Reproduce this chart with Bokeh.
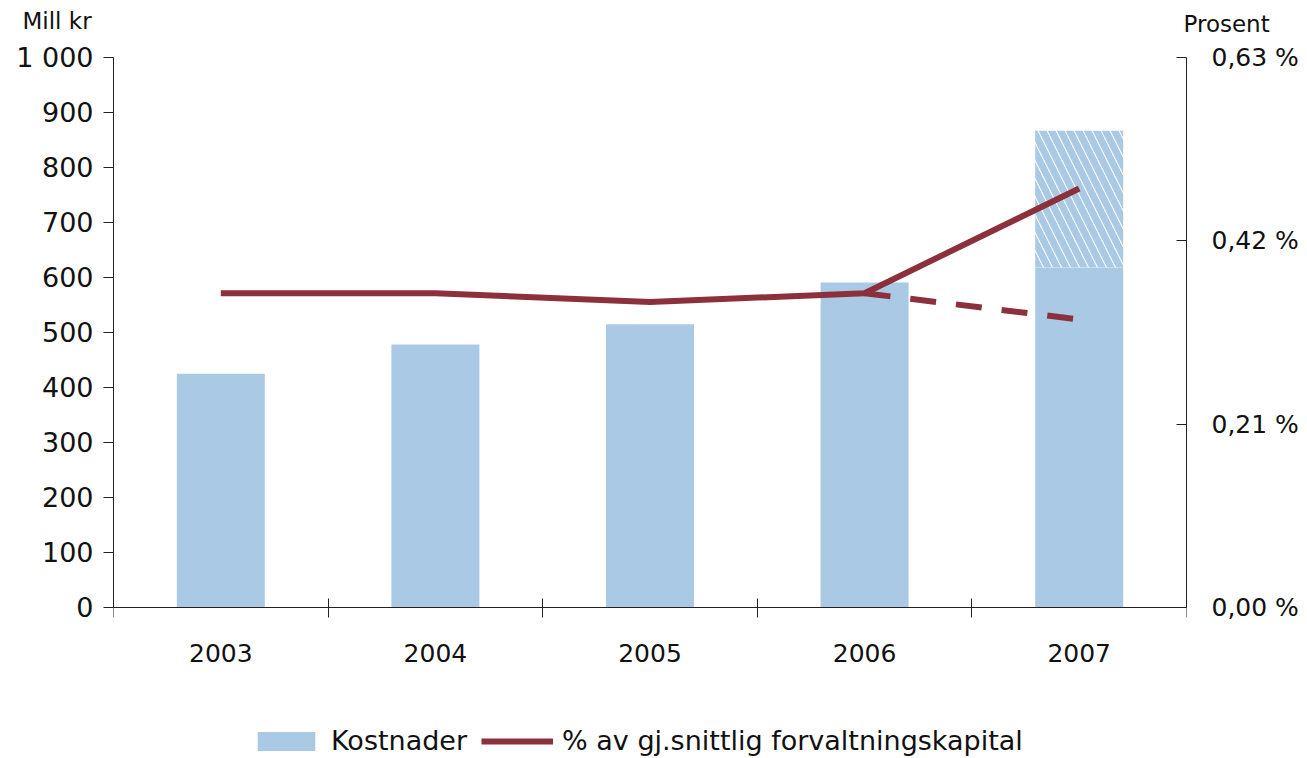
from bokeh.plotting import figure
from bokeh.models import (Range1d, LinearAxis, FixedTicker,
                          CustomJSTickFormatter, Legend, LegendItem, Label, ColumnDataSource)
from bokeh.embed import file_html
from bokeh.resources import INLINE

years = ["2003", "2004", "2005", "2006", "2007"]
kostnader = [425, 478, 515, 591, 618]
kostnader_2007_total = 867
pct = [0.36, 0.36, 0.35, 0.36, 0.48]
dash_years = ["2006", "2007"]
dash_pct = [0.36, 0.33]
left_ticks = [0, 100, 200, 300, 400, 500, 600, 700, 800, 900, 1000]
right_ticks = [0, 0.21, 0.42, 0.63]
legend_labels = ["Kostnader", "% av gj.snittlig forvaltningskapital"]
left_title = "Mill kr"
right_title = "Prosent"
y_max, pct_max = 1000, 0.63

BAR = "#a9c9e5"
LINE = "#8c313c"
FONT = "DejaVu Sans"
TXT = "#111111"
AX = "#222222"

# page geometry: plot area from FL..FR, FT..FB; frame extended down to PB to host the legend
FL, FR, FT, FB, PB = 113, 1186, 57, 607, 758
extra = (PB - FB) / (FB - FT)          # extra frame height below zero, as fraction of the data span

pos = {y: i + 0.5 for i, y in enumerate(years)}
xs = [pos[y] for y in years]
dash_xs = [pos[y] for y in dash_years]

p = figure(frame_width=FR - FL, frame_height=PB - FT,
           x_range=Range1d(0, len(years)), y_range=Range1d(-extra * y_max, y_max),
           output_backend="svg", toolbar_location=None, x_axis_location=None,
           y_axis_location=None)
p.min_border_left = FL
p.min_border_right = 1305 - FR
p.min_border_top = FT
p.min_border_bottom = 0
p.outline_line_color = None
p.xgrid.grid_line_color = None
p.ygrid.grid_line_color = None
p.extra_y_ranges = {"pct": Range1d(-extra * pct_max, pct_max)}

src = ColumnDataSource(dict(x=xs, top=kostnader))
bars = p.vbar(x="x", top="top", width=0.41, source=src, fill_color=BAR, line_color=None)
p.vbar(x=[pos[years[-1]]], bottom=[kostnader[-1]], top=[kostnader_2007_total], width=0.41,
       fill_color="white", line_color=None, hatch_pattern="\\", hatch_color=BAR,
       hatch_weight=7, hatch_scale=18)

ln = p.line(x=xs, y=pct, y_range_name="pct", line_color=LINE, line_width=6)
p.line(x=dash_xs, y=dash_pct, y_range_name="pct", line_color=LINE, line_width=6,
       line_dash="26 20")

la = LinearAxis(ticker=FixedTicker(ticks=left_ticks), bounds=(0, y_max),
                formatter=CustomJSTickFormatter(code="return tick >= 1000 ? Math.floor(tick/1000) + ' ' + String(tick % 1000).padStart(3, '0') : String(tick);"))
la.major_tick_in = 0
la.major_tick_out = 10
la.minor_tick_line_color = None
la.major_label_standoff = 10
la.major_label_text_font = FONT
la.major_label_text_font_size = "27px"
la.major_label_text_color = TXT
la.axis_line_color = AX
la.major_tick_line_color = AX
p.add_layout(la, "left")

ra = LinearAxis(y_range_name="pct", ticker=FixedTicker(ticks=right_ticks), bounds=(0, pct_max),
                formatter=CustomJSTickFormatter(code="return tick.toFixed(2).replace('.', ',') + ' %';"))
ra.major_tick_in = 10
ra.major_tick_out = 0
ra.minor_tick_line_color = None
ra.major_label_standoff = 25
ra.major_label_text_font = FONT
ra.major_label_text_font_size = "25px"
ra.major_label_text_color = TXT
ra.axis_line_color = AX
ra.major_tick_line_color = AX
p.add_layout(ra, "right")

xa = LinearAxis(ticker=FixedTicker(ticks=xs, minor_ticks=[i for i in range(len(years) + 1)]),
                formatter=CustomJSTickFormatter(args=dict(years=years),
                                                code="return years[Math.floor(tick)];"),
                fixed_location=0)
xa.major_tick_line_color = None
xa.major_tick_in = 0
xa.major_tick_out = 0
xa.minor_tick_in = 9
xa.minor_tick_out = 10
xa.minor_tick_line_color = AX
xa.axis_line_color = AX
xa.major_label_standoff = 26
xa.major_label_text_font = FONT
xa.major_label_text_font_size = "25px"
xa.major_label_text_color = TXT
p.add_layout(xa, "below")

legend = Legend(items=[LegendItem(label=legend_labels[0], renderers=[bars]),
                       LegendItem(label=legend_labels[1], renderers=[ln])],
                orientation="horizontal", location=(250 - FL, 2))
legend.padding = 0
legend.margin = 0
legend.border_line_color = None
legend.background_fill_alpha = 0
legend.glyph_width = 72
legend.glyph_height = 24
legend.label_standoff = 9
legend.spacing = 14
legend.label_text_font = FONT
legend.label_text_font_size = "27px"
legend.label_text_color = TXT
legend.label_height = 24
p.add_layout(legend, "center")

p.add_layout(Label(x=22 - FL, y=37, x_units="screen", y_units="screen", text=left_title,
                   text_font=FONT, text_font_size="23px", text_color=TXT,
                   text_baseline="middle", text_align="left"), "above")
p.add_layout(Label(x=1183 - FL, y=8, x_units="screen", y_units="screen", text=right_title,
                   text_font=FONT, text_font_size="23px", text_color=TXT,
                   text_baseline="middle", text_align="left"), "above")

open("out.html", "w").write(file_html(p, INLINE))
